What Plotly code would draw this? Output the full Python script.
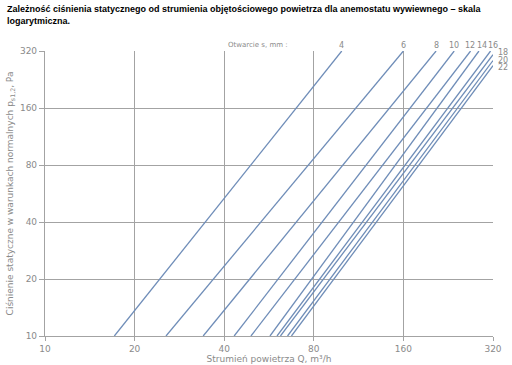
import math
import plotly.graph_objects as go

openings = ["4", "6", "8", "10", "12", "14", "16", "18", "20", "22"]
# flow at 10 Pa (bottom of chart)
q_start = [17.1, 25.5, 34.0, 43.2, 49.2, 57.0, 60.2, 61.8, 65.3, 67.3]
# end point of each line (flow, pressure)
q_end = [99.3, 160, 206, 237, 269, 287, 314, 320, 320, 320]
p_end = [320, 320, 320, 320, 320, 320, 320, 306, 285, 268]
p_start = 10

x_ticks = [10, 20, 40, 80, 160, 320]
y_ticks = [10, 20, 40, 80, 160, 320]

title_text = ("Zależność ciśnienia statycznego od strumienia objętościowego powietrza dla anemostatu wywiewnego – skala<br>"
              "logarytmiczna.")
x_title = "Strumień powietrza Q, m³/h"
y_title = "Ciśnienie statyczne w warunkach normalnych p<sub>s1,2</sub>, Pa"
legend_title = "Otwarcie s, mm :"

line_color = "#6f8db8"
grid_color = "#a3a3a3"
text_gray = "#8a8a8a"

fig = go.Figure()
for name, qs, qe, pe in zip(openings, q_start, q_end, p_end):
    fig.add_trace(go.Scatter(x=[qs, qe], y=[p_start, pe], mode="lines",
                             line=dict(color=line_color, width=1.3),
                             name=name, showlegend=False, hoverinfo="skip"))

lab_font = dict(family="DejaVu Sans", size=8, color=text_gray)
top_shift = {"12": -1, "14": 3, "16": 2}
side_shift = {"18": 2, "20": 0, "22": -2}
annotations = []
for name, qe, pe in zip(openings, q_end, p_end):
    if qe < 320:
        annotations.append(dict(x=math.log10(qe), y=1, xref="x", yref="paper",
                                yanchor="bottom", text=name, showarrow=False,
                                xshift=top_shift.get(name, 0), yshift=-1, font=lab_font))
    else:
        annotations.append(dict(x=1, y=math.log10(pe), xref="paper", yref="y",
                                xanchor="left", text=name, showarrow=False,
                                xshift=3, yshift=side_shift[name], font=lab_font))
annotations.append(dict(x=math.log10(52), y=1, xref="x", yref="paper", yanchor="bottom",
                        text=legend_title, showarrow=False, yshift=0,
                        font=dict(family="DejaVu Sans", size=7, color=text_gray)))
annotations.append(dict(x=-40 / 448, y=1 + 49 / 284.5, xref="paper", yref="paper",
                        xanchor="left", yanchor="top", align="left",
                        text=title_text, showarrow=False,
                        font=dict(family="Liberation Sans", size=9, color="black",
                                  weight="bold")))

axis_common = dict(
    type="log", range=[1, math.log10(320)], automargin=False,
    showgrid=True, gridcolor=grid_color, gridwidth=1.2,
    showline=True, linecolor=grid_color, linewidth=1.2, mirror=False,
    ticks="outside", tickcolor=grid_color,
    tickfont=dict(family="DejaVu Sans", size=9, color=text_gray),
    zeroline=False,
)

fig.update_layout(
    width=512, height=365,
    margin=dict(l=45, r=19, t=51, b=29),
    paper_bgcolor="white", plot_bgcolor="white",
    annotations=annotations,
    xaxis=dict(**axis_common, tickvals=x_ticks, ticktext=[str(v) for v in x_ticks], ticklen=4,
               title=dict(text=x_title, standoff=2,
                          font=dict(family="DejaVu Sans", size=9, color=text_gray))),
    yaxis=dict(**axis_common, tickvals=y_ticks, ticktext=[str(v) for v in y_ticks], ticklen=5,
               title=dict(text=y_title, standoff=4,
                          font=dict(family="DejaVu Sans", size=9, color=text_gray))),
)

fig.write_html("out.html")
